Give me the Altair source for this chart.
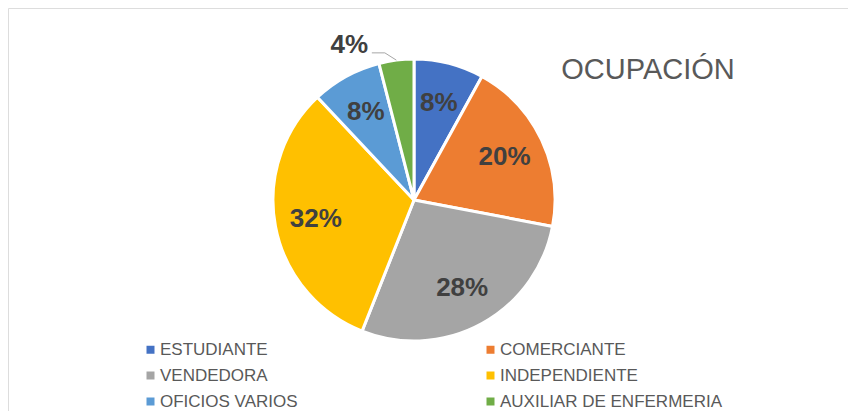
import altair as alt
import pandas as pd

categories = ["ESTUDIANTE", "COMERCIANTE", "VENDEDORA", "INDEPENDIENTE",
              "OFICIOS VARIOS", "AUXILIAR DE ENFERMERIA"]
values = [8, 20, 28, 32, 8, 4]
colors = ["#4472C4", "#ED7D31", "#A5A5A5", "#FFC000", "#5B9BD5", "#70AD47"]
title_text = "OCUPACIÓN"

df = pd.DataFrame({"cat": categories, "value": values,
                   "order": list(range(len(categories)))})

CX, CY, R = 406, 192, 141
FONT = "Liberation Sans"

base = alt.Chart(df).encode(
    theta=alt.Theta("value:Q", stack=True),
    order=alt.Order("order:Q"),
)

pie = base.mark_arc(x=CX, y=CY, outerRadius=R, stroke="white", strokeWidth=3).encode(
    color=alt.Color(
        "cat:N", sort=categories,
        scale=alt.Scale(domain=categories, range=colors),
        legend=alt.Legend(
            title=None, orient="none", legendX=134, legendY=333, columns=2,
            direction="horizontal",
            columnPadding=184, rowPadding=8, symbolType="square", symbolSize=64,
            symbolStrokeWidth=0, labelFontSize=17, labelColor="#595959",
            labelFont=FONT, labelOffset=1, labelLimit=400,
        ),
    )
)

inner = base.transform_calculate(
    lbl="datum.value >= 5 ? datum.value + '%' : ''"
).mark_text(
    x=CX, y=CY, radius=100, fontSize=26, fontWeight="bold", color="#404040", font=FONT
).encode(text="lbl:N")

outer = base.transform_calculate(
    lbl="datum.value < 5 ? datum.value + '%' : ''"
).mark_text(
    x=CX, y=CY, radius=168, thetaOffset=-0.27, fontSize=26, fontWeight="bold",
    color="#404040", font=FONT
).encode(text="lbl:N")

lead = alt.Chart(df).transform_joinaggregate(
    total="sum(value)"
).transform_window(
    cum="sum(value)", sort=[alt.SortField("order")]
).transform_filter(
    "datum.value < 5"
).transform_calculate(
    a="2*PI*(datum.cum - datum.value/2)/datum.total"
).transform_calculate(
    px1=f"{CX} + {R}*sin(datum.a)",
    py1=f"{CY} - {R}*cos(datum.a)",
    px2=f"{CX} + {R + 9}*sin(datum.a - 0.07)",
    py2=f"{CY} - {R + 9}*cos(datum.a - 0.07)",
).transform_calculate(
    px3="datum.px2 - 13"
)

rule1 = lead.mark_rule(color="#A6A6A6", strokeWidth=1).encode(
    x=alt.X("px1:Q", scale=None), y=alt.Y("py1:Q", scale=None),
    x2="px2:Q", y2="py2:Q",
)
rule2 = lead.mark_rule(color="#A6A6A6", strokeWidth=1).encode(
    x=alt.X("px2:Q", scale=None), y=alt.Y("py2:Q", scale=None),
    x2="px3:Q", y2="py2:Q",
)

title = alt.Chart(pd.DataFrame({"t": [title_text]})).mark_text(
    x=640, y=62, fontSize=29, color="#595959", font=FONT
).encode(text="t:N")

chart = alt.layer(pie, inner, outer, rule1, rule2, title).properties(
    width=840, height=403, autosize=alt.AutoSizeParams(type="none"), padding=0
).configure_view(stroke=None).configure(font=FONT)

chart.save("out.html", embed_options={"renderer": "svg", "actions": False})
